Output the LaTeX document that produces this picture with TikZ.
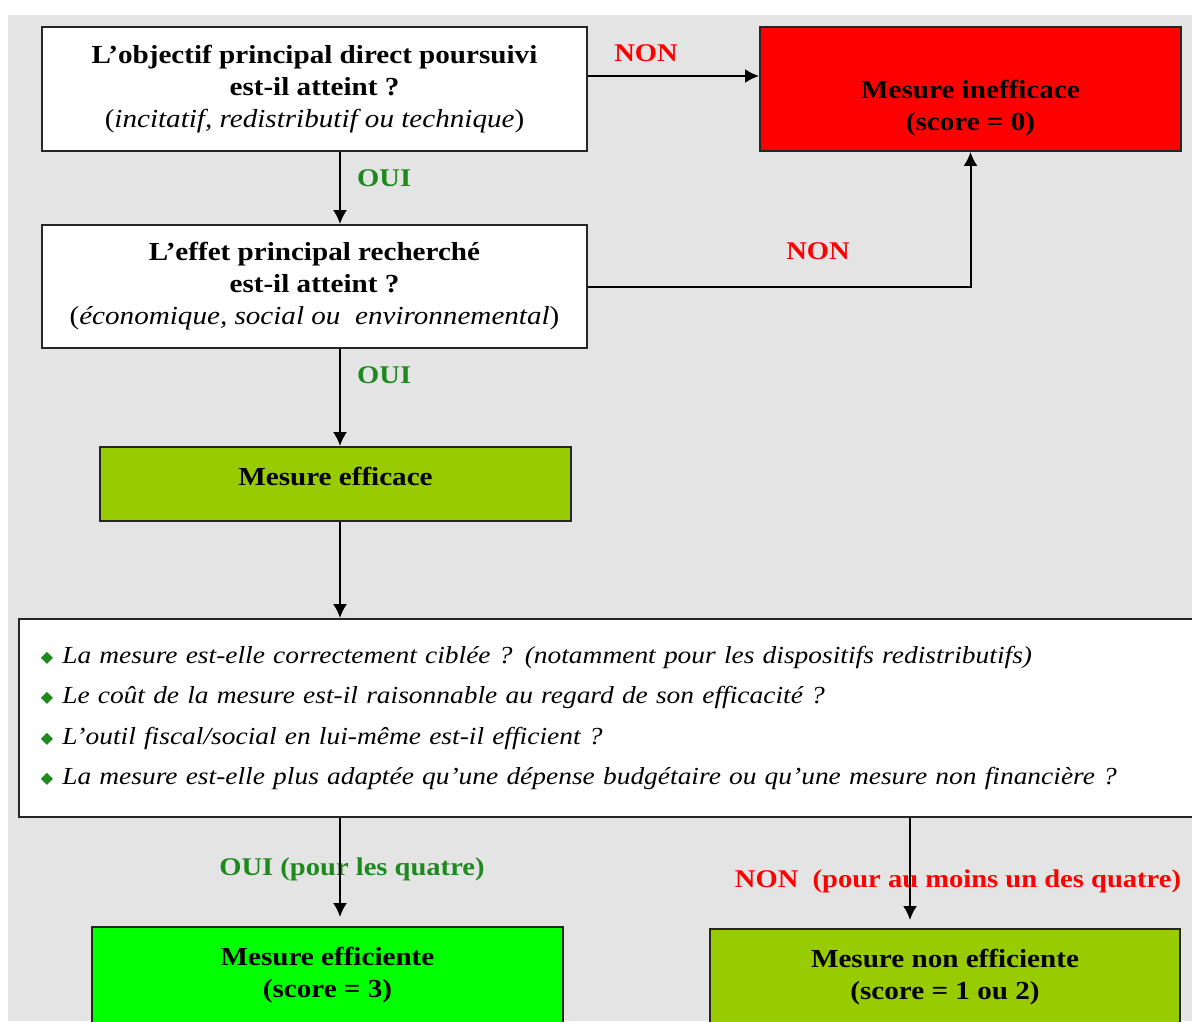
\documentclass[tikz,border=0pt]{standalone}
\usepackage{fontspec}
\setmainfont{Liberation Serif}[FakeStretch=1.12]
\newfontfamily\symfont{DejaVu Sans}
\usetikzlibrary{arrows.meta,calc}
\definecolor{bggray}{HTML}{E4E4E4}
\definecolor{redbox}{HTML}{FF0000}
\definecolor{olivebox}{HTML}{99CC00}
\definecolor{limebox}{HTML}{00FF00}
\definecolor{ouigreen}{HTML}{1E8A1E}
\definecolor{bulletgreen}{HTML}{1E8A1E}
\definecolor{nonred}{HTML}{FF0000}
\newcommand{\bulletmark}{\raisebox{1pt}{\symfont\color{bulletgreen}\fontsize{16}{16}\selectfont ◆}\hspace{9pt}}
\begin{document}
\begin{tikzpicture}[x=1pt,y=-1pt,
  box/.style={draw=black!85,line width=1.9pt,rectangle,inner sep=0pt,align=center,
    font=\fontsize{26}{32}\selectfont\bfseries},
  arr/.style={draw=black,line width=2pt,-{Latex[length=14pt,width=14pt]}},
  ouilbl/.style={text=ouigreen,font=\fontsize{25.5}{28}\selectfont\bfseries,inner sep=0pt},
  nonlbl/.style={text=nonred,font=\fontsize{25.5}{28}\selectfont\bfseries,inner sep=0pt}]
\useasboundingbox (0,0) rectangle (1192,1021);
\clip (0,0) rectangle (1192,1021);
\fill[white] (0,0) rectangle (1192,1021);
\fill[bggray] (8,15) rectangle (1192,1021);
\coordinate (sp) at (340,0);

\node[box,fill=white,minimum width=545pt,minimum height=124pt] (q1) at (314.5,89)
  {L'objectif principal direct poursuivi\\est-il atteint ?\\{\mdseries(\itshape incitatif, redistributif ou technique\/\upshape)}};
\node[box,fill=redbox,minimum width=421pt,minimum height=124pt] (ineff) at (970.5,89)
  {\mbox{}\\[24pt]Mesure inefficace\\(score = 0)};
\node[box,fill=white,minimum width=545pt,minimum height=123pt] (q2) at (314.5,286.5)
  {L'effet principal recherché\\est-il atteint ?\\{\mdseries(\itshape économique, social ou\ \ environnemental\/\upshape)}};
\node[box,fill=olivebox,minimum width=471pt,minimum height=74pt,text height=18pt,text depth=16pt] (eff) at (335.5,484)
  {Mesure efficace};
\node[box,fill=white,minimum height=198pt,anchor=west,text width=1150pt,inner xsep=22pt,align=left,
  font=\fontsize{24.5}{40.5}\selectfont\itshape] (crit) at (18,718)
  {\bulletmark La mesure est-elle correctement ciblée ? (notamment pour les dispositifs redistributifs)\\
   \bulletmark Le coût de la mesure est-il raisonnable au regard de son efficacité ?\\
   \bulletmark L'outil fiscal/social en lui-même est-il efficient ?\\
   \bulletmark La mesure est-elle plus adaptée qu'une dépense budgétaire ou qu'une mesure non financière ?};
\node[box,fill=limebox,minimum width=471pt,inner ysep=20pt,anchor=north] (effi) at (327.5,926)
  {Mesure efficiente\\(score = 3)\\\mbox{}\\\mbox{}};
\node[box,fill=olivebox,minimum width=470pt,inner ysep=20pt,anchor=north] (nonef) at (945,928)
  {Mesure non efficiente\\(score = 1 ou 2)\\\mbox{}\\\mbox{}};

\draw[arr] (q1.east |- 0,76) -- (ineff.west |- 0,76);
\draw[arr] (q1.south -| sp) -- (q2.north -| sp);
\draw[arr] (q2.east) -| (ineff.south);
\draw[arr] (q2.south -| sp) -- (eff.north -| sp);
\draw[arr] (eff.south -| sp) -- (crit.north -| sp);
\node[ouilbl] (lbl5) at (352,869) {OUI (pour les quatre)};
\node[nonlbl] (lbl6) at (958,881) {NON\ \ (pour au moins un des quatre)};
\draw[arr,shorten >=9pt] (crit.south -| sp) -- (effi.north -| sp);
\draw[arr,shorten >=8pt] (crit.south -| 910,0) -- (nonef.north -| 910,0);

\node[nonlbl] (lbl1) at (646,53) {NON};
\node[ouilbl,anchor=west] (lbl2) at (357,178) {OUI};
\node[nonlbl] (lbl3) at (818,251) {NON};
\node[ouilbl,anchor=west] (lbl4) at (357,375) {OUI};
\end{tikzpicture}
\end{document}
